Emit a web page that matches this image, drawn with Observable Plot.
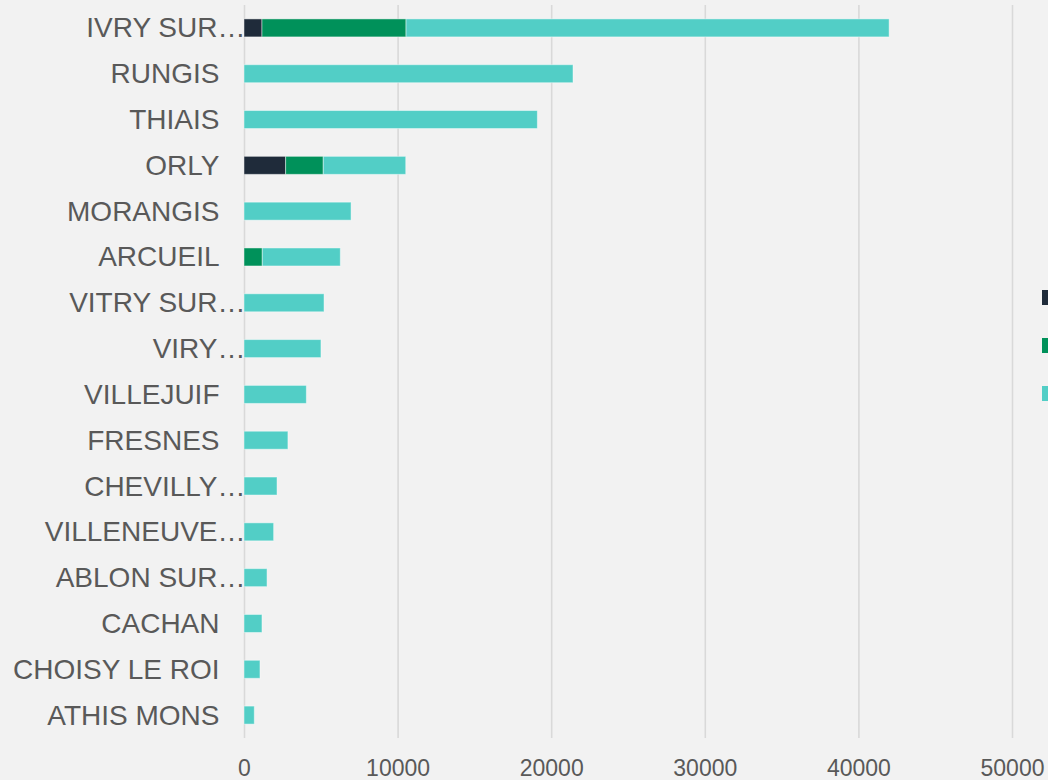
<!DOCTYPE html>
<html>
<head>
<meta charset="utf-8">
<script src="https://cdn.jsdelivr.net/npm/d3@7"></script>
<script src="https://cdn.jsdelivr.net/npm/@observablehq/plot@0.6"></script>
<style>
  html, body { margin: 0; padding: 0; background: #f2f2f2; overflow: hidden; }
  #wrap { position: relative; width: 1048px; height: 780px; overflow: hidden; }
  .legend { position: absolute; left: 1042px; top: 290px; }
  .legend div { width: 15px; height: 15px; margin-bottom: 33px; }
</style>
</head>
<body>
<div id="wrap"></div>
<script>
const categories = ["IVRY SUR…", "RUNGIS", "THIAIS", "ORLY", "MORANGIS", "ARCUEIL", "VITRY SUR…", "VIRY…", "VILLEJUIF", "FRESNES", "CHEVILLY…", "VILLENEUVE…", "ABLON SUR…", "CACHAN", "CHOISY LE ROI", "ATHIS MONS"];
const seriesNames = ["Série 1", "Série 2", "Série 3"];
const seriesColors = ["#1f2b3a", "#00915a", "#52cec6"];
const series1 = [1170, 0, 0, 2710, 0, 0, 0, 0, 0, 0, 0, 0, 0, 0, 0, 0];
const series2 = [9380, 0, 0, 2450, 0, 1190, 0, 0, 0, 0, 0, 0, 0, 0, 0, 0];
const series3 = [31450, 21420, 19100, 5370, 6970, 5080, 5210, 5010, 4060, 2860, 2150, 1930, 1500, 1170, 1040, 670];
const xTicks = [0, 10000, 20000, 30000, 40000, 50000];

const seriesValues = [series1, series2, series3];
const rows = [];
categories.forEach((c, i) => {
  seriesValues.forEach((vals, s) => {
    if (vals[i] > 0) rows.push({city: c, series: seriesNames[s], value: vals[i]});
  });
});

const truncated = categories.filter(c => c.endsWith("…"));
const normal = categories.filter(c => !c.endsWith("…"));
const font = "'Liberation Sans', Arial, sans-serif";

const chart = Plot.plot({
  width: 1048,
  height: 780,
  marginLeft: 244,
  marginRight: 36,
  marginTop: 5,
  marginBottom: 42,
  style: {background: "#f2f2f2", fontFamily: font, overflow: "visible"},
  x: {domain: [0, 50000], axis: null},
  y: {domain: categories, paddingInner: 0.607, paddingOuter: 0.3035, round: false, axis: null},
  color: {domain: seriesNames, range: seriesColors},
  marks: [
    Plot.gridX(xTicks, {stroke: "#d9d9d9", strokeOpacity: 1, strokeWidth: 1.6}),
    Plot.barX(rows, Plot.stackX({y: "city", x: "value", fill: "series", stroke: "#ffffff", strokeOpacity: 0.45, strokeWidth: 1})),
    Plot.axisX(xTicks, {tickSize: 0, tickPadding: 21, fontSize: 23, fill: "#595959", tickFormat: d => String(d), label: null}),
    Plot.axisY(normal, {tickSize: 0, tickPadding: 25, fontSize: 28, fill: "#595959", label: null}),
    Plot.axisY(truncated, {tickSize: 0, tickPadding: -1, fontSize: 28, fill: "#595959", label: null})
  ]
});

const wrap = document.getElementById("wrap");
wrap.appendChild(chart);

const legend = document.createElement("div");
legend.className = "legend";
seriesNames.forEach((n, i) => {
  const sw = document.createElement("div");
  sw.style.background = seriesColors[i];
  sw.title = n;
  legend.appendChild(sw);
});
wrap.appendChild(legend);
</script>
</body>
</html>
